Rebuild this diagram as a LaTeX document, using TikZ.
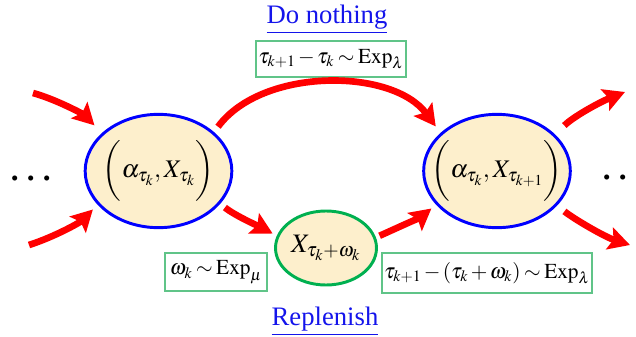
\documentclass[tikz,border=0pt]{standalone}
\usepackage{mathptmx}
\usepackage[no-math]{fontspec}
\setmainfont{Liberation Serif}
\usetikzlibrary{arrows.meta,shapes.geometric}
\definecolor{cream}{RGB}{253,239,204}
\definecolor{okgreen}{RGB}{0,176,80}
\definecolor{boxgreen}{RGB}{96,196,136}
\definecolor{linkblue}{RGB}{20,20,235}
\begin{document}
\medmuskip=2mu
\thickmuskip=3mu
\begin{tikzpicture}[x=0.75pt,y=-0.75pt,
  stateE/.style={ellipse, draw=blue, line width=2.2pt, fill=cream, inner sep=0pt,
    minimum width=110pt, minimum height=85pt, font=\fontsize{19}{23}\selectfont},
  midE/.style={ellipse, draw=okgreen, line width=2.2pt, fill=cream, inner sep=0pt,
    minimum width=75.75pt, minimum height=55.5pt, font=\fontsize{20}{24}\selectfont},
  eqbox/.style={draw=boxgreen, line width=1.1pt, fill=white, inner sep=0pt,
    font=\fontsize{16}{20}\selectfont},
  lbl/.style={text=linkblue, anchor=base, inner sep=0pt, font=\fontsize{20}{24}\selectfont},
  dotsE/.style={anchor=base, inner sep=0pt, font=\fontsize{36}{40}\selectfont},
  arr/.style={draw=red, line width=5pt, -{Stealth[length=16pt,width=17pt,inset=3pt]}}]
\useasboundingbox (0,0) rectangle (636,336);
\node[stateE] (L) at (158.5,171) {\makebox[0pt]{$\bigg(\alpha_{\tau_k}{,}\,X_{\tau_k}\bigg)$}};
\node[stateE] (R) at (497,171) {\makebox[0pt]{$\bigg(\alpha_{\tau_k}{,}\,X_{\tau_{k+1}}\bigg)$}};
\node[midE] (M) at (326,248) {\makebox[0pt]{$X_{\tau_k+\omega_k}$}};
\node[eqbox, minimum width=112.5pt, minimum height=27pt] (b1) at (331,59) {$\tau_{k+1}-\tau_k\sim\mathrm{Exp}_\lambda$};
\node[eqbox, minimum width=76.5pt, minimum height=28.5pt] (b2) at (216,272) {$\omega_k\sim\mathrm{Exp}_\mu$};
\node[eqbox, minimum width=157.5pt, minimum height=30pt] (b3) at (487,273) {$\tau_{k+1}-(\tau_k+\omega_k)\sim\mathrm{Exp}_\lambda$};
\node[lbl] (dn) at (327,23) {\underline{Do nothing}};
\node[lbl] (rp) at (325,325) {\underline{Replenish}};
\node[dotsE] (ld) at (31,190) {$\mathord{\cdot}\mskip1mu\mathord{\cdot}\mskip1mu\mathord{\cdot}$};
\begin{scope}
\clip (0,0) rectangle (636,336);
\node[dotsE] (rd) at (623,189) {$\mathord{\cdot}\mskip1mu\mathord{\cdot}\mskip1mu\mathord{\cdot}$};
\end{scope}
\coordinate (inA) at (33,93);
\coordinate (inB) at (29,245);
\coordinate (outA) at (625,92);
\coordinate (outB) at (630,245);
\draw[arr, shorten <=5pt, shorten >=6pt] (L.35) .. controls +(48,-65) and +(-48,-65) .. (R.146);
\draw[arr, shorten >=8pt] (inA) .. controls +(25,7) and +(-18,-18) .. (L.146);
\draw[arr, shorten >=5pt] (inB) .. controls +(25,-8) and +(-18,18) .. (L.209);
\draw[arr, shorten <=9.6pt] (R.32) .. controls +(18,-18) and +(-25,10) .. (outA);
\draw[arr, shorten <=7pt] (R.-30) .. controls +(18,14) and +(-25,-8) .. (outB);
\draw[arr, shorten <=4.5pt, shorten >=3.5pt] (L.-28) .. controls +(15,12) and +(-15,-8) .. (M.166);
\draw[arr, shorten <=3pt, shorten >=4.5pt] (M.12) .. controls +(18,-8) and +(-15,12) .. (R.209);
\end{tikzpicture}
\end{document}
